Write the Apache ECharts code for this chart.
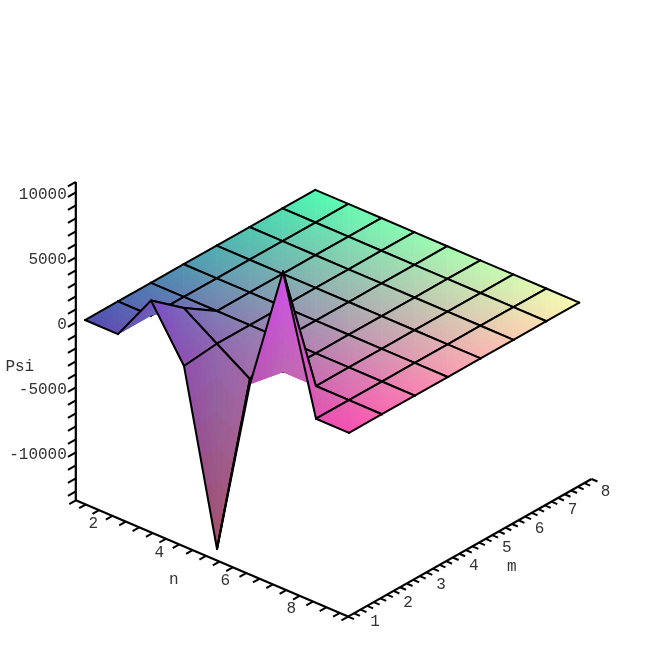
<!DOCTYPE html>
<html>
<head>
<meta charset="utf-8">
<style>
  html, body { margin: 0; padding: 0; background: #fff; }
  #chart { width: 664px; height: 664px; }
</style>
<script src="https://cdn.jsdelivr.net/npm/echarts@6/dist/echarts.min.js"></script>
</head>
<body>
<div id="chart"></div>
<script>
// grid values
const nValues = [1, 2, 3, 4, 5, 6, 7, 8, 9]
const mValues = [1, 2, 3, 4, 5, 6, 7, 8]
const flat = -980
const psiM1 = [flat, flat, 2690, -1265, -14250, -480, 9260, flat, flat]
const psiM2 = [flat, flat, 680, flat, -2610, flat, flat, flat, flat]
const psiM3 = [flat, flat, flat, flat, flat, flat, flat, flat, flat]
const psiM4 = [flat, flat, flat, flat, flat, flat, flat, flat, flat]
const psiM5 = [flat, flat, flat, flat, flat, flat, flat, flat, flat]
const psiM6 = [flat, flat, flat, flat, flat, flat, flat, flat, flat]
const psiM7 = [flat, flat, flat, flat, flat, flat, flat, flat, flat]
const psiM8 = [flat, flat, flat, flat, flat, flat, flat, flat, flat]
const psi = [psiM1, psiM2, psiM3, psiM4, psiM5, psiM6, psiM7, psiM8]

// axis box and tick labels
const nRange = [1.3, 9.55]
const mRange = [0.42, 7.82]
const psiRange = [-13690, 10800]
const nTickLabels = [2, 4, 6, 8]
const mTickLabels = [1, 2, 3, 4, 5, 6, 7, 8]
const psiTickLabels = [10000, 5000, 0, -5000, -10000]

// edges that the original leaves without a black line: [n1, m1, n2, m2]
const bareEdges = [
  [2, 1, 2, 2], [2, 2, 3, 2], [5, 2, 6, 2], [6, 2, 7, 2], [6, 1, 6, 2]
]

// oblique view of the box onto the page plane
function project(n, m, z) {
  return [
    85 + 33 * (n - 1) + 32.9 * (m - 1),
    307.3 + 14.1 * (n - 1) - 18.6 * (m - 1) - 0.013 * z
  ]
}

function vertex(i, j) {
  const n = nValues[i], m = mValues[j], z = psi[j][i]
  return {
    pos: project(n, m, z),
    rgb: [
      80 + 170 * (n - 1) / 8,
      80 + 170 * (m - 1) / 7,
      178 + 0.0055 * (z - flat)
    ]
  }
}

function isBare(i, j, i2, j2) {
  return bareEdges.some(e =>
    e[0] === nValues[i] && e[1] === mValues[j] && e[2] === nValues[i2] && e[3] === mValues[j2])
}

const SUB = 6
const black = '#000'

function mix(a, b, c, u, v) {
  const w = 1 - u - v
  return a.map((_, k) => a[k] * w + b[k] * u + c[k] * v)
}

function toColor(rgb) {
  return 'rgb(' + rgb.map(x => Math.round(Math.min(255, Math.max(0, x)))).join(',') + ')'
}

// one triangle of a face, cut up small so the colour runs smoothly
function shadeTriangle(api, a, b, c, out) {
  out.push({
    type: 'polygon',
    shape: { points: [a.pos, b.pos, c.pos].map(p => api.coord(p)) },
    style: { fill: toColor(mix(a.rgb, b.rgb, c.rgb, 1 / 3, 1 / 3)) }
  })
  for (let p = 0; p < SUB; p++) {
    for (let q = 0; q < SUB - p; q++) {
      const tris = [[[p, q], [p + 1, q], [p, q + 1]]]
      if (p + q < SUB - 1) tris.push([[p + 1, q], [p + 1, q + 1], [p, q + 1]])
      tris.forEach(t => {
        const pts = t.map(s => api.coord(mix(a.pos, b.pos, c.pos, s[0] / SUB, s[1] / SUB)))
        const col = toColor(mix(a.rgb, b.rgb, c.rgb,
          (t[0][0] + t[1][0] + t[2][0]) / (3 * SUB),
          (t[0][1] + t[1][1] + t[2][1]) / (3 * SUB)))
        out.push({
          type: 'polygon',
          shape: { points: pts },
          style: { fill: col, stroke: col, lineWidth: 0.25 }
        })
      })
    }
  }
}

function edge(api, i, j, i2, j2, out) {
  if (isBare(i, j, i2, j2)) return
  const p = api.coord(vertex(i, j).pos), q = api.coord(vertex(i2, j2).pos)
  out.push({
    type: 'line',
    shape: { x1: p[0], y1: p[1], x2: q[0], y2: q[1] },
    style: { stroke: black, lineWidth: 2, lineCap: 'round' }
  })
}

function renderFace(params, api) {
  const i = api.value(0), j = api.value(1)
  const children = []
  const a = vertex(i, j), b = vertex(i + 1, j), c = vertex(i + 1, j + 1), d = vertex(i, j + 1)
  shadeTriangle(api, a, b, d, children)
  shadeTriangle(api, b, c, d, children)
  edge(api, i, j, i + 1, j, children)
  edge(api, i + 1, j, i + 1, j + 1, children)
  edge(api, i, j + 1, i + 1, j + 1, children)
  edge(api, i, j, i, j + 1, children)
  return { type: 'group', children: children }
}

// back row first, so nearer faces paint over farther ones
const faces = []
for (let j = mValues.length - 2; j >= 0; j--) {
  for (let i = 0; i < nValues.length - 1; i++) faces.push([i, j])
}

// axis lines and ticks
const segments = []
function addSegment(p, q, w) { segments.push([p[0], p[1], q[0], q[1], w]) }

const zBox = psiRange[0]
addSegment(project(nRange[0], mRange[0], zBox), project(nRange[1], mRange[0], zBox), 2.2)
addSegment(project(nRange[1], mRange[0], zBox), project(nRange[1], mRange[1], zBox), 2.2)
addSegment(project(nRange[0], mRange[0], zBox), project(nRange[0], mRange[0], psiRange[1]), 2.2)

const nTicks = [nRange[0], nRange[1]]
for (let k = 0; k < 20; k++) nTicks.push(1.6 + 0.405 * k)
nTicks.filter(t => t <= nRange[1]).forEach(t => {
  addSegment(project(t, mRange[0], zBox), project(t, mRange[0] - 0.2, zBox), 2)
})
const mTicks = [mRange[0], mRange[1]]
for (let k = 0; k < 36; k++) mTicks.push(0.6 + 0.2 * k)
mTicks.forEach(t => {
  addSegment(project(nRange[1], t, zBox), project(nRange[1] + 0.18, t, zBox), 2)
})
const psiTicks = [psiRange[1]]
for (let v = -13000; v <= 10000; v += 1000) psiTicks.push(v)
psiTicks.forEach(t => {
  addSegment(project(nRange[0], mRange[0], t), project(nRange[0], mRange[0] - 0.24, t), 2)
})

// text placed at projected axis positions
const labels = []
function addLabel(text, p, dx, dy, align) { labels.push([p[0], p[1], text, dx, dy, align]) }
nTickLabels.forEach(n => addLabel(String(n), project(n, mRange[0], zBox), -5.5, 14, 'center'))
mTickLabels.forEach(m => addLabel(String(m), project(nRange[1], m, zBox), 8, 16, 'center'))
psiTickLabels.forEach(v => addLabel(String(v), project(nRange[0], mRange[0], v), -9, 2, 'right'))
addLabel('n', project(5, mRange[0], zBox), -24, 27, 'center')
addLabel('m', project(nRange[1], 5, zBox), 13, 35, 'center')
addLabel('Psi', project(nRange[0], mRange[0], -3400), -56, 0, 'center')

const chart = echarts.init(document.getElementById('chart'))
chart.setOption({
  animation: false,
  backgroundColor: '#fff',
  grid: { left: 0, right: 0, top: 0, bottom: 0 },
  xAxis: { type: 'value', min: 0, max: 664, show: false },
  yAxis: { type: 'value', min: 0, max: 664, inverse: true, show: false },
  series: [
    {
      type: 'custom',
      silent: true,
      clip: false,
      data: faces,
      renderItem: renderFace
    },
    {
      type: 'custom',
      silent: true,
      clip: false,
      data: segments,
      renderItem(params, api) {
        const p = api.coord([api.value(0), api.value(1)])
        const q = api.coord([api.value(2), api.value(3)])
        return {
          type: 'line',
          shape: { x1: p[0], y1: p[1], x2: q[0], y2: q[1] },
          style: { stroke: black, lineWidth: api.value(4) }
        }
      }
    },
    {
      type: 'custom',
      silent: true,
      clip: false,
      data: labels,
      dimensions: ['x', 'y', 'text', 'dx', 'dy', 'align'],
      renderItem(params, api) {
        const row = labels[params.dataIndex]
        const p = api.coord([row[0], row[1]])
        return {
          type: 'text',
          x: p[0] + row[3],
          y: p[1] + row[4],
          style: {
            text: row[2],
            fill: '#333',
            font: '16px "Liberation Mono", monospace',
            align: row[5],
            verticalAlign: 'middle'
          }
        }
      }
    }
  ]
})
</script>
</body>
</html>
